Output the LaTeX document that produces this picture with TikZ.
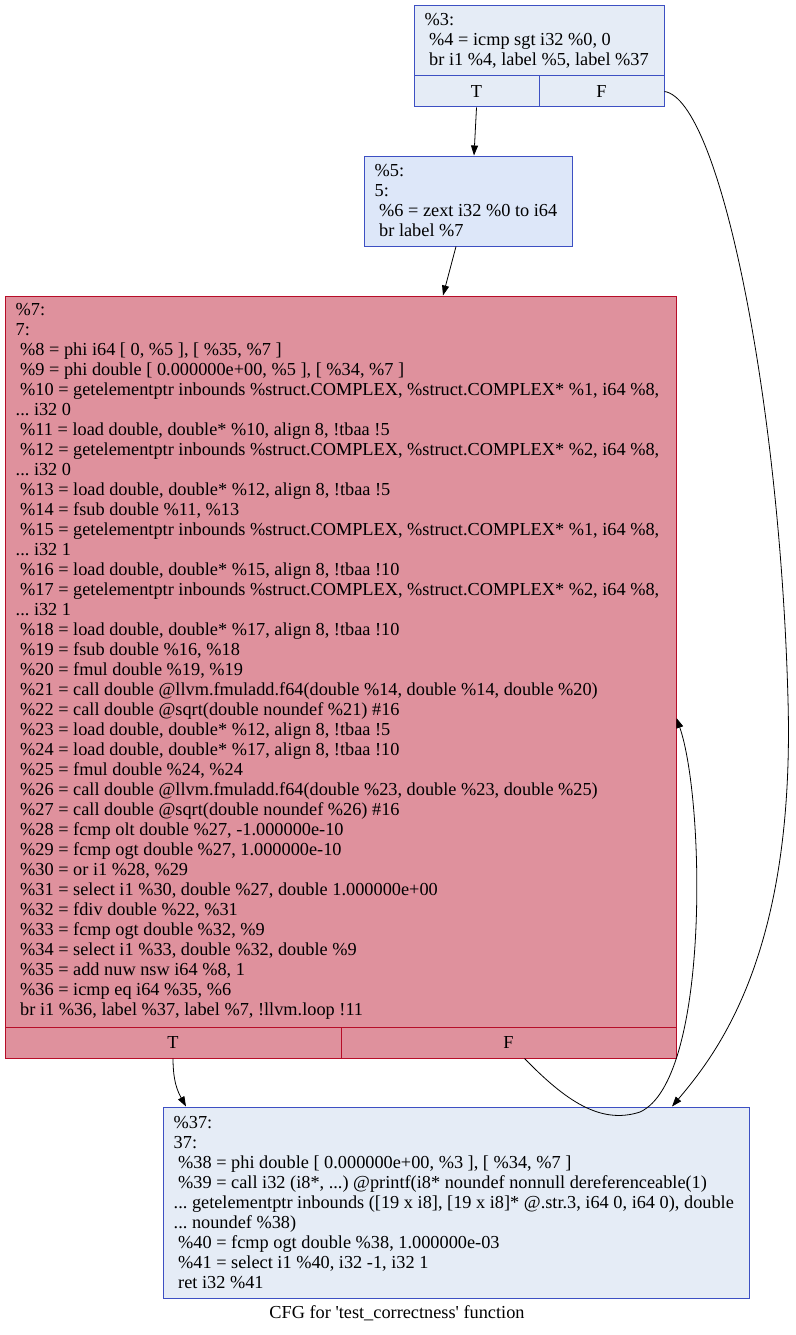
\documentclass[tikz,border=0pt]{standalone}
\usepackage{fontspec}
\newfontfamily\gvfont{Liberation Serif}
\usetikzlibrary{arrows.meta}
\definecolor{cool}{HTML}{E5ECF6}
\definecolor{coolb}{HTML}{DDE7F9}
\definecolor{hot}{HTML}{DF919D}
\definecolor{blueline}{HTML}{3D50C3}
\definecolor{redline}{HTML}{B70D28}
\newcommand{\ind}{\hspace*{4.5pt}}
\frenchspacing

\begin{document}
\begin{tikzpicture}[x=1pt,y=-1pt,
    block/.style={rectangle,draw=blueline,fill=cool,line width=1pt,inner sep=0pt},
    hotblock/.style={block,draw=redline,fill=hot},
    code/.style={anchor=west,inner sep=0pt,align=left,font=\gvfont\fontsize{18.3}{20}\selectfont},
    cell/.style={block,minimum height=31pt,font=\gvfont\fontsize{18.3}{20}\selectfont},
    edge/.style={line width=0.8pt,-{Triangle[length=10pt,width=7pt]}}]

\useasboundingbox (0,0) rectangle (795,1335);

\node[block,minimum width=250pt,minimum height=70pt] (b3) at (539,41) {};
\node[code,xshift=11pt] (t3) at (b3.west) {\%3:\\ \ind\%4 = icmp sgt i32 \%0, 0\\ \ind br i1 \%4, label \%5, label \%37};
\node[cell,minimum width=125pt] (b3T) at (476.5,91.5) {T};
\node[cell,minimum width=125pt] (b3F) at (601.5,91.5) {F};

\node[block,fill=coolb,minimum width=208pt,minimum height=90pt] (b5) at (468,201) {};
\node[code,xshift=11pt] (t5) at (b5.west) {\%5:\\ 5:\\ \ind\%6 = zext i32 \%0 to i64\\ \ind br label \%7};

\node[hotblock,minimum width=671pt,minimum height=731pt] (b7) at (340.5,661.5) {};
\node[code,xshift=11pt] (t7) at (b7.west) {\%7:\\ 7:\\
 \ind\%8 = phi i64 [ 0, \%5 ], [ \%35, \%7 ]\\
 \ind\%9 = phi double [ 0.000000e+00, \%5 ], [ \%34, \%7 ]\\
 \ind\%10 = getelementptr inbounds \%struct.COMPLEX, \%struct.COMPLEX* \%1, i64 \%8,\\
 ... i32 0\\
 \ind\%11 = load double, double* \%10, align 8, !tbaa !5\\
 \ind\%12 = getelementptr inbounds \%struct.COMPLEX, \%struct.COMPLEX* \%2, i64 \%8,\\
 ... i32 0\\
 \ind\%13 = load double, double* \%12, align 8, !tbaa !5\\
 \ind\%14 = fsub double \%11, \%13\\
 \ind\%15 = getelementptr inbounds \%struct.COMPLEX, \%struct.COMPLEX* \%1, i64 \%8,\\
 ... i32 1\\
 \ind\%16 = load double, double* \%15, align 8, !tbaa !10\\
 \ind\%17 = getelementptr inbounds \%struct.COMPLEX, \%struct.COMPLEX* \%2, i64 \%8,\\
 ... i32 1\\
 \ind\%18 = load double, double* \%17, align 8, !tbaa !10\\
 \ind\%19 = fsub double \%16, \%18\\
 \ind\%20 = fmul double \%19, \%19\\
 \ind\%21 = call double @llvm.fmuladd.f64(double \%14, double \%14, double \%20)\\
 \ind\%22 = call double @sqrt(double noundef \%21) \#16\\
 \ind\%23 = load double, double* \%12, align 8, !tbaa !5\\
 \ind\%24 = load double, double* \%17, align 8, !tbaa !10\\
 \ind\%25 = fmul double \%24, \%24\\
 \ind\%26 = call double @llvm.fmuladd.f64(double \%23, double \%23, double \%25)\\
 \ind\%27 = call double @sqrt(double noundef \%26) \#16\\
 \ind\%28 = fcmp olt double \%27, -1.000000e-10\\
 \ind\%29 = fcmp ogt double \%27, 1.000000e-10\\
 \ind\%30 = or i1 \%28, \%29\\
 \ind\%31 = select i1 \%30, double \%27, double 1.000000e+00\\
 \ind\%32 = fdiv double \%22, \%31\\
 \ind\%33 = fcmp ogt double \%32, \%9\\
 \ind\%34 = select i1 \%33, double \%32, double \%9\\
 \ind\%35 = add nuw nsw i64 \%8, 1\\
 \ind\%36 = icmp eq i64 \%35, \%6\\
 \ind br i1 \%36, label \%37, label \%7, !llvm.loop !11};
\node[cell,hotblock,minimum height=31pt,minimum width=336pt] (b7T) at (173,1042.5) {T};
\node[cell,hotblock,minimum height=31pt,minimum width=335pt] (b7F) at (508.5,1042.5) {F};

\node[block,minimum width=586pt,minimum height=191pt] (b37) at (456,1202.5) {};
\node[code,xshift=11pt] (t37) at (b37.west) {\%37:\\ 37:\\
 \ind\%38 = phi double [ 0.000000e+00, \%3 ], [ \%34, \%7 ]\\
 \ind\%39 = call i32 (i8*, ...) @printf(i8* noundef nonnull dereferenceable(1)\\
 ... getelementptr inbounds ([19 x i8], [19 x i8]* @.str.3, i64 0, i64 0), double\\
 ... noundef \%38)\\
 \ind\%40 = fcmp ogt double \%38, 1.000000e-03\\
 \ind\%41 = select i1 \%40, i32 -1, i32 1\\
 \ind ret i32 \%41};

\node[font=\gvfont\fontsize{18.3}{20}\selectfont,inner sep=0pt] (cap) at (397,1313) {CFG for 'test\_correctness' function};

\draw[edge] (b3T.south) -- ([xshift=6pt]b5.north);
\draw[edge] (b3F.east) .. controls (720,100) and (780,400) .. (788,700)
  .. controls (795,950) and (720,1050) .. ([xshift=216pt]b37.north);
\draw[edge] ([xshift=-12pt]b5.south) -- ([xshift=102.5pt]b7.north);
\draw[edge] (b7T.south) .. controls (173,1082) and (178,1092) .. ([xshift=-270pt]b37.north);
\draw[edge] ([xshift=16pt]b7F.south) .. controls (565,1100) and (600,1125) .. (640,1112)
  .. controls (710,1080) and (705,800) .. ([yshift=-56.5pt]b7.east);
\end{tikzpicture}
\end{document}
